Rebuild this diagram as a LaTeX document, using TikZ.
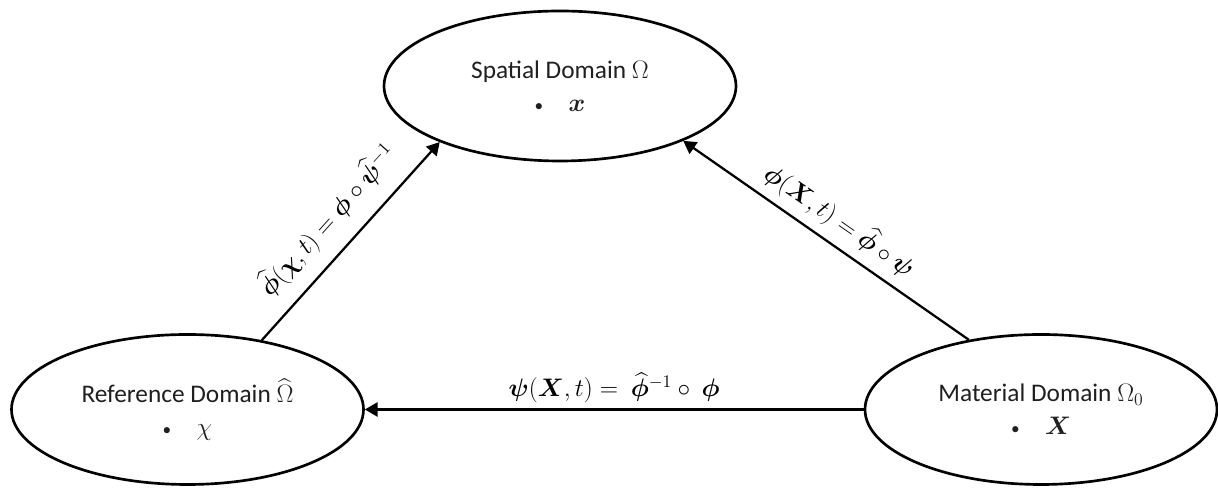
\RequirePackage{fix-cm}
\documentclass[tikz,border=0pt]{standalone}
\usepackage{amsmath}
\usepackage{bm}
\usepackage[no-math]{fontspec}
\setmainfont{Carlito}
\usetikzlibrary{shapes.geometric,arrows.meta}
\newcommand{\smbul}{{\fontsize{13}{13}\selectfont\textbullet}}
\begin{document}
\begin{tikzpicture}[x=0.75pt,y=0.75pt,
  every node/.style={font=\fontsize{19}{22.5}\selectfont,text=black!88},
  dombox/.style={ellipse,draw=black,line width=2pt,minimum width=264pt,minimum height=112.5pt,inner sep=0pt,align=center},
  conn/.style={line width=1.7pt,-{Triangle[length=9.5pt,width=10.5pt]}},
  lab/.style={midway,sloped,above,inner sep=6pt,text=black}]
\useasboundingbox (0,0) rectangle (1218,488);
\node[dombox] (sp) at (560,402) {Spatial Domain $\Omega$\\[2pt]\smbul\hspace{19pt}$\bm{x}$};
\node[dombox] (ref) at (187.5,78.5) {Reference Domain $\widehat{\Omega}$\\[2pt]\smbul\hspace{19pt}$\chi$};
\node[dombox] (mat) at (1041,78.5) {Material Domain $\Omega_0$\\[2pt]\smbul\hspace{19pt}$\bm{X}$};
\draw[conn] (ref.43) -- node[lab,inner sep=11pt] (l1) {$\widehat{\bm\phi}(\bm\chi,t)=\bm\phi\circ\widehat{\bm\psi}^{-1}$} (sp.205);
\draw[conn] (mat.136) -- node[lab] (l2) {$\bm\phi(\bm X,t)=\widehat{\bm\phi}\circ\bm\psi$} (sp.336);
\draw[conn] (mat.west) -- node[lab,inner sep=4pt] (l3) {$\bm\psi(\bm X,t)=\ \widehat{\bm\phi}^{-1}\circ\ \bm\phi$} (ref.east);
\end{tikzpicture}
\end{document}
